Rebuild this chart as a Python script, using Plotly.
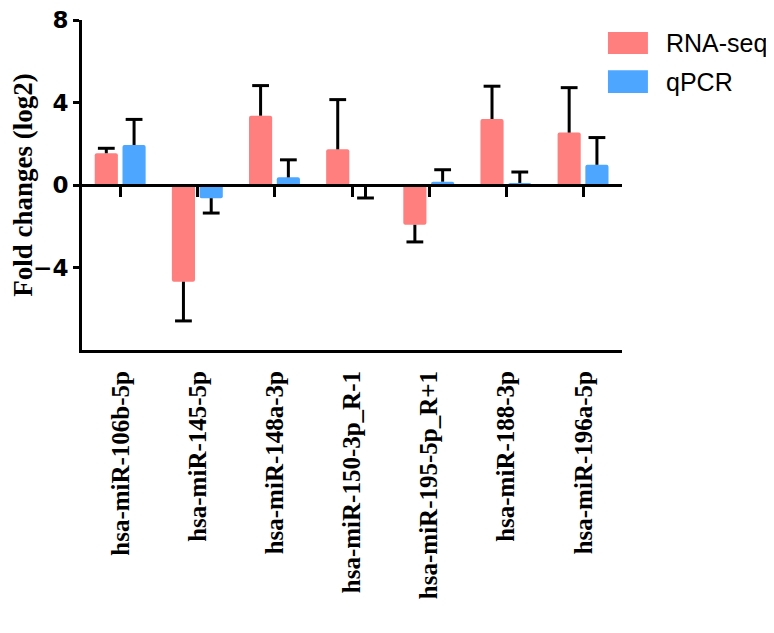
import plotly.graph_objects as go

categories = ["hsa-miR-106b-5p", "hsa-miR-145-5p", "hsa-miR-148a-3p",
              "hsa-miR-150-3p_R-1", "hsa-miR-195-5p_R+1", "hsa-miR-188-3p",
              "hsa-miR-196a-5p"]
series_names = ["RNA-seq", "qPCR"]
rna_values = [1.54, -4.69, 3.36, 1.73, -1.93, 3.20, 2.54]
rna_errors = [0.24, 1.90, 1.46, 2.41, 0.83, 1.59, 2.18]
qpcr_values = [1.94, -0.64, 0.37, -0.08, 0.16, 0.10, 0.98]
qpcr_errors = [1.24, 0.72, 0.85, 0.55, 0.58, 0.53, 1.32]
y_ticks = [-4, 0, 4, 8]

colors = ["#FF7F7F", "#4DA6FF"]
offsets = [-0.335, 0.025]
bar_w = 0.30

fig = go.Figure()
idx = list(range(len(categories)))
for name, vals, errs, col, off in zip(series_names, [rna_values, qpcr_values],
                                      [rna_errors, qpcr_errors], colors, offsets):
    fig.add_trace(go.Bar(x=idx, y=vals, name=name, offset=off, width=bar_w,
                         marker=dict(color=col, line=dict(width=0), cornerradius=2),
                         showlegend=False))
    # one-sided error bars (away from zero)
    sx, sy, tx, ty = [], [], [], []
    cx = off + bar_w / 2
    for i, v, e in zip(idx, vals, errs):
        tip = v + e if v >= 0 else v - e
        sx += [i + cx, i + cx, None]
        sy += [v, tip, None]
        tx.append(i + cx)
        ty.append(tip)
    fig.add_trace(go.Scatter(x=sx, y=sy, mode="lines",
                             line=dict(color="black", width=3),
                             showlegend=False, hoverinfo="skip"))
    fig.add_trace(go.Scatter(x=tx, y=ty, mode="markers",
                             marker=dict(symbol="line-ew", size=12,
                                         line=dict(color="black", width=3)),
                             showlegend=False, hoverinfo="skip"))

# custom legend
leg_y = [(0.964, 0.897), (0.848, 0.779)]
for name, col, (y1, y0) in zip(series_names, colors, leg_y):
    fig.add_shape(type="rect", xref="paper", yref="paper", x0=0.974, x1=1.048,
                  y0=y0, y1=y1, fillcolor=col, line=dict(width=0))
    fig.add_annotation(xref="paper", yref="paper", x=1.078, y=(y0 + y1) / 2,
                       text=name, showarrow=False, xanchor="left", yanchor="middle",
                       font=dict(family="Liberation Sans", size=25, color="black"))

fig.update_layout(
    width=766, height=625,
    margin=dict(l=74, r=152, t=12, b=283, autoexpand=False),
    paper_bgcolor="white", plot_bgcolor="white",
    barmode="overlay",
    xaxis=dict(range=[-0.5, 6.5], tickmode="array", tickvals=idx, ticktext=categories,
               tickangle=-90, ticks="", showline=True, linewidth=3, linecolor="black",
               showgrid=False, zeroline=False, ticklabelstandoff=8, automargin=False,
               ticklabeloverflow="allow",
               tickfont=dict(family="Liberation Serif", size=25, color="black",
                             weight="bold")),
    xaxis2=dict(range=[-0.5, 6.5], overlaying="x", anchor="free", position=0.5,
                side="bottom", tickmode="array", tickvals=idx, ticks="outside",
                ticklen=10, tickwidth=3, tickcolor="black", showline=True,
                linewidth=3, linecolor="black", showticklabels=False,
                showgrid=False, zeroline=False, automargin=False),
    yaxis=dict(range=[-8, 8], tickmode="array", tickvals=y_ticks, ticks="outside",
               ticklen=6, tickwidth=3, tickcolor="black", showline=True, linewidth=3,
               linecolor="black", showgrid=False, zeroline=False, automargin=False,
               ticklabeloverflow="allow",
               tickfont=dict(family="DejaVu Sans", size=23, color="black",
                             weight="bold"),
               title=dict(text="Fold changes (log2)", standoff=14,
                          font=dict(family="Liberation Serif", size=27,
                                    color="black", weight="bold"))),
)
fig.add_trace(go.Scatter(x=[0], y=[0], xaxis="x2", mode="markers",
                         marker=dict(opacity=0), showlegend=False, hoverinfo="skip"))

fig.write_html("out.html")
